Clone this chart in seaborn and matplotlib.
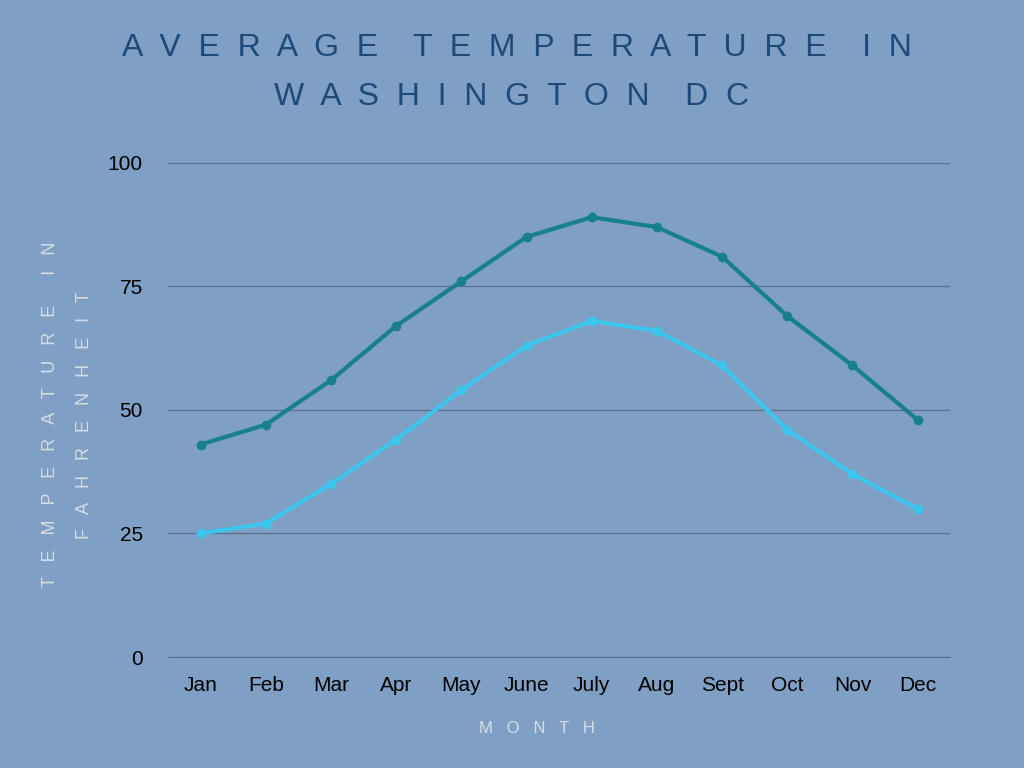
"""Average temperature in Washington DC"""
import pandas as pd
import matplotlib.pyplot as plt
import seaborn as sns

months = ['Jan', 'Feb', 'Mar', 'Apr', 'May', 'June', 'July', 'Aug', 'Sept', 'Oct', 'Nov', 'Dec']
high_f = [43, 47, 56, 67, 76, 85, 89, 87, 81, 69, 59, 48]
low_f = [25, 27, 35, 44, 54, 63, 68, 66, 59, 46, 37, 30]

df = pd.DataFrame({
    'month': months * 2,
    'temp': high_f + low_f,
    'series': ['High'] * 12 + ['Low'] * 12,
})

def spaced(s, gap='  '):
    return gap.join(s)

bg = '#7f9fc4'
sns.set_style('white')
plt.rcParams['font.family'] = ['Liberation Sans', 'DejaVu Sans']

fig = plt.figure(figsize=(10.24, 7.68), dpi=100, facecolor=bg)
ax = fig.add_axes([0.164, 0.1445, 0.764, 0.6435], facecolor=bg)

sns.lineplot(data=df, x='month', y='temp', hue='series', sort=False,
             palette={'High': '#17808a', 'Low': '#3cc6ee'},
             marker='o', markersize=7, markeredgewidth=0, linewidth=3,
             legend=False, ax=ax)

ax.set_ylim(0, 100)
ax.set_xlim(-0.5, 11.5)
ax.set_yticks([0, 25, 50, 75, 100])
ax.yaxis.grid(True, color='#5d6f8c', linewidth=0.9)
ax.set_axisbelow(True)
for side in ['top', 'right', 'left']:
    ax.spines[side].set_visible(False)
ax.spines['bottom'].set_color('#5d6f8c')
ax.tick_params(axis='both', length=0, labelsize=15, colors='black', pad=14)
ax.tick_params(axis='y', pad=18)
ax.set_xlabel('')
ax.set_ylabel('')

label_col = '#d6dde8'
fig.text(0.524, 0.052, spaced('MONTH', '   '), ha='center', va='center',
         fontsize=12, color=label_col)
fig.text(0.049, 0.46, spaced('TEMPERATURE', '   ') + '      ' + spaced('IN', '   '),
         rotation=90, ha='center', va='center', fontsize=13, color=label_col)
fig.text(0.083, 0.46, spaced('FAHRENHEIT', '   '),
         rotation=90, ha='center', va='center', fontsize=13, color=label_col)

title_col = '#1d4a7a'
fig.text(0.505, 0.938, spaced('AVERAGE') + '    ' + spaced('TEMPERATURE') + '    ' + spaced('IN'),
         ha='center', va='center', fontsize=23, color=title_col)
fig.text(0.5, 0.874, spaced('WASHINGTON') + '    ' + spaced('DC'),
         ha='center', va='center', fontsize=23, color=title_col)

plt.savefig('out.png', dpi=100, facecolor=bg)
